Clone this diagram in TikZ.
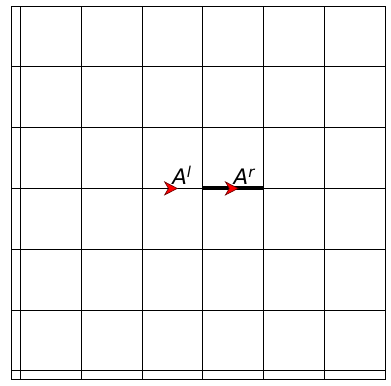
\documentclass[tikz,border=0pt]{standalone}
\usepackage{fontspec}
\setmainfont{DejaVu Sans}
\usetikzlibrary{arrows.meta}
\colorlet{tipedge}{black!60!red}
\tikzset{
  gridline/.style={line width=0.45pt, black},
  thickseg/.style={line width=1.8pt, black},
  redtip/.style={line width=0.45pt, -{Stealth[length=6.6pt, width=6.8pt, inset=2pt, fill=red, color=tipedge, line width=0.3pt]}},
  lbl/.style={anchor=base west, inner sep=0pt, font=\fontsize{10}{12}\selectfont\itshape}
}
\begin{document}
\begin{tikzpicture}
\useasboundingbox (-3.337,-3.234) rectangle (3.094,3.099);
\draw[gridline] (-3.14,-3.14) rectangle (3,3);
\draw[gridline] (-3.14,-3.14) grid (3,3);
\coordinate (L) at (-1,0);
\coordinate (O) at (0,0);
\coordinate (R) at (1,0);
\coordinate (la) at (-0.7,0);
\coordinate (lb) at (-0.41,0);
\coordinate (ra) at (0.3,0);
\coordinate (rb) at (0.59,0);
\draw[thickseg] (O) -- (R);
\draw[redtip] (la) -- (lb);
\draw[redtip] (ra) -- (rb);
\node[lbl] (Al) at (-0.51,0.06) {A\textsuperscript{l}};
\node[lbl] (Ar) at (0.5,0.06) {A\textsuperscript{r}};
\end{tikzpicture}
\end{document}
